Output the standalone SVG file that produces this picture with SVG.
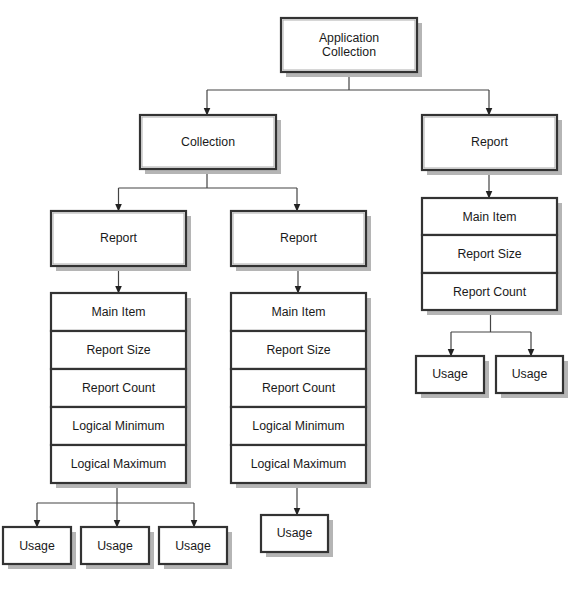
<svg xmlns="http://www.w3.org/2000/svg" width="576" height="592" viewBox="0 0 576 592">
<defs>
<marker id="ah" markerUnits="userSpaceOnUse" markerWidth="8" markerHeight="9" refX="7.5" refY="3.5" orient="auto">
<path d="M0,0 L8,3.5 L0,7 Z" fill="#222"/>
</marker>
</defs>
<style>
.sh{fill:#b5b5b5;stroke:none}
.bx{fill:#fff;stroke:#333;stroke-width:2.2}
.in{fill:none;stroke:#9a9a9a;stroke-width:0.8}
.t{font-family:"Liberation Sans",Arial,sans-serif;font-size:12.3px;fill:#1a1a1a;text-anchor:middle;dominant-baseline:central}
.c{fill:none;stroke:#444;stroke-width:1.2}
.ca{fill:none;stroke:#444;stroke-width:1.2;marker-end:url(#ah)}
</style>
<rect width="576" height="592" fill="#fff"/>

<g id="connectors">
<path class="c" d="M349,72 V90 M207,90 H489"/>
<path class="ca" d="M207,90 V115"/>
<path class="ca" d="M489,90 V115"/>
<path class="c" d="M207,169 V188 M118.5,188 H297"/>
<path class="ca" d="M118.5,188 V211"/>
<path class="ca" d="M297,188 V211"/>
<path class="ca" d="M118.5,266 V293"/>
<path class="ca" d="M298,266 V293"/>
<path class="ca" d="M489,170 V198"/>
<path class="c" d="M117,483 V503 M37,503 H194"/>
<path class="ca" d="M37,503 V527"/>
<path class="ca" d="M117,503 V527"/>
<path class="ca" d="M194,503 V527"/>
<path class="ca" d="M297,483 V515"/>
<path class="c" d="M490.5,310 V332 M451,332 H531"/>
<path class="ca" d="M451,332 V356"/>
<path class="ca" d="M531,332 V356"/>
</g>

<g id="app-collection">
<rect class="sh" x="286" y="23" width="136" height="54"/>
<rect class="bx" x="281" y="18" width="136" height="54"/>
<rect class="in" x="283" y="20" width="132" height="50"/>
<text class="t" x="349" y="37.5">Application</text>
<text class="t" x="349" y="52">Collection</text>
</g>

<g id="collection">
<rect class="sh" x="145" y="120" width="136" height="54"/>
<rect class="bx" x="140" y="115" width="136" height="54"/>
<rect class="in" x="142" y="117" width="132" height="50"/>
<text class="t" x="208" y="142">Collection</text>
</g>

<g id="report-right">
<rect class="sh" x="427" y="120" width="135" height="55"/>
<rect class="bx" x="422" y="115" width="135" height="55"/>
<rect class="in" x="424" y="117" width="131" height="51"/>
<text class="t" x="489.5" y="142">Report</text>
</g>

<g id="report-left">
<rect class="sh" x="56" y="216" width="135" height="55"/>
<rect class="bx" x="51" y="211" width="135" height="55"/>
<rect class="in" x="53" y="213" width="131" height="51"/>
<text class="t" x="118.5" y="238">Report</text>
</g>

<g id="report-middle">
<rect class="sh" x="236" y="216" width="135" height="55"/>
<rect class="bx" x="231" y="211" width="135" height="55"/>
<rect class="in" x="233" y="213" width="131" height="51"/>
<text class="t" x="298.5" y="238">Report</text>
</g>

<g id="stack-left">
<rect class="sh" x="56" y="298" width="135" height="190"/>
<rect class="bx" x="51" y="293" width="135" height="38"/>
<rect class="bx" x="51" y="331" width="135" height="38"/>
<rect class="bx" x="51" y="369" width="135" height="38"/>
<rect class="bx" x="51" y="407" width="135" height="38"/>
<rect class="bx" x="51" y="445" width="135" height="38"/>
<text class="t" x="118.5" y="312">Main Item</text>
<text class="t" x="118.5" y="350">Report Size</text>
<text class="t" x="118.5" y="388">Report Count</text>
<text class="t" x="118.5" y="426">Logical Minimum</text>
<text class="t" x="118.5" y="464">Logical Maximum</text>
</g>

<g id="stack-middle">
<rect class="sh" x="236" y="298" width="135" height="190"/>
<rect class="bx" x="231" y="293" width="135" height="38"/>
<rect class="bx" x="231" y="331" width="135" height="38"/>
<rect class="bx" x="231" y="369" width="135" height="38"/>
<rect class="bx" x="231" y="407" width="135" height="38"/>
<rect class="bx" x="231" y="445" width="135" height="38"/>
<text class="t" x="298.5" y="312">Main Item</text>
<text class="t" x="298.5" y="350">Report Size</text>
<text class="t" x="298.5" y="388">Report Count</text>
<text class="t" x="298.5" y="426">Logical Minimum</text>
<text class="t" x="298.5" y="464">Logical Maximum</text>
</g>

<g id="stack-right">
<rect class="sh" x="427" y="203" width="135" height="112"/>
<rect class="bx" x="422" y="198" width="135" height="37"/>
<rect class="bx" x="422" y="235" width="135" height="38"/>
<rect class="bx" x="422" y="273" width="135" height="37"/>
<text class="t" x="489.5" y="216.5">Main Item</text>
<text class="t" x="489.5" y="254">Report Size</text>
<text class="t" x="489.5" y="291.5">Report Count</text>
</g>

<g id="usage-l1">
<rect class="sh" x="8" y="532" width="68" height="37"/>
<rect class="bx" x="3" y="527" width="68" height="37"/>
<text class="t" x="37" y="545.5">Usage</text>
</g>
<g id="usage-l2">
<rect class="sh" x="86" y="532" width="68" height="37"/>
<rect class="bx" x="81" y="527" width="68" height="37"/>
<text class="t" x="115" y="545.5">Usage</text>
</g>
<g id="usage-l3">
<rect class="sh" x="164" y="532" width="68" height="37"/>
<rect class="bx" x="159" y="527" width="68" height="37"/>
<text class="t" x="193" y="545.5">Usage</text>
</g>
<g id="usage-m">
<rect class="sh" x="266" y="520" width="67" height="37"/>
<rect class="bx" x="261" y="515" width="67" height="37"/>
<text class="t" x="294.5" y="533">Usage</text>
</g>
<g id="usage-r1">
<rect class="sh" x="421" y="361" width="68" height="37"/>
<rect class="bx" x="416" y="356" width="68" height="37"/>
<text class="t" x="450" y="374">Usage</text>
</g>
<g id="usage-r2">
<rect class="sh" x="501" y="361" width="67" height="37"/>
<rect class="bx" x="496" y="356" width="67" height="37"/>
<text class="t" x="529.5" y="374">Usage</text>
</g>
</svg>
